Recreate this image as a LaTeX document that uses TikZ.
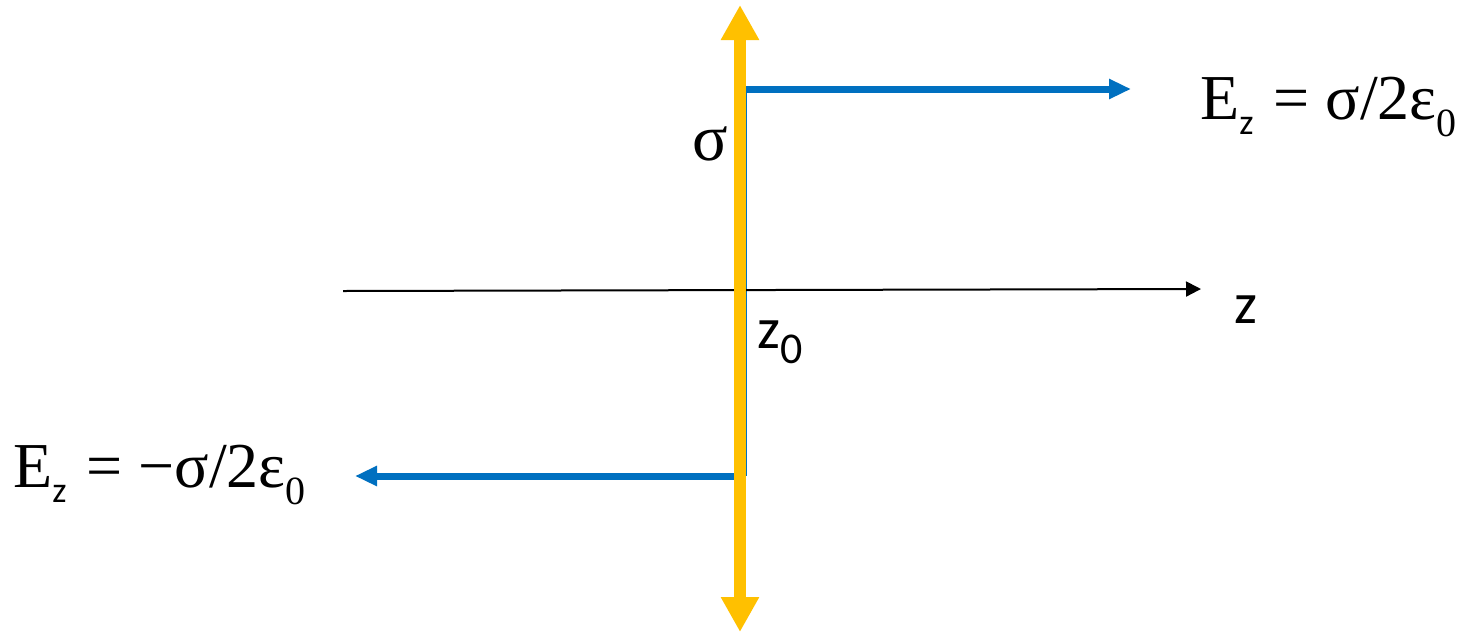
\documentclass[tikz,border=0pt]{standalone}
\usepackage{fontspec}
\setmainfont{Liberation Serif}
\newfontfamily\carlitofont{Carlito}
\usetikzlibrary{arrows.meta}
\definecolor{gold}{HTML}{FFC000}
\definecolor{eblue}{HTML}{0070C0}
\tikzset{
  sheet/.style={line width=12pt, draw=gold, {Triangle[width=36pt,length=35pt]}-{Triangle[width=36pt,length=35pt]}},
  field/.style={line width=7pt, draw=eblue, -{Triangle[width=19pt,length=22pt]}},
  axis/.style={line width=2pt, draw=black, -{Triangle[width=15pt,length=15pt]}},
  lbl/.style={inner sep=0pt, anchor=base west},
}
\newcommand{\fieldlabel}[1]{\fontsize{64}{64}\selectfont E\raisebox{-15pt}{\carlitofont\fontsize{36}{36}\selectfont z}\hspace{4pt} = #1σ/2ε\raisebox{-17pt}{\fontsize{40}{40}\selectfont 0}}
\begin{document}
\begin{tikzpicture}[x=1pt,y=-1pt]
\useasboundingbox (0,0) rectangle (1470,633);
% coordinates
\coordinate (ytop) at (740,5);
\coordinate (ybot) at (740,632);
\coordinate (rstart) at (746,89);
\coordinate (rend) at (1131,89);
\coordinate (lstart) at (746,476);
\coordinate (lend) at (355,476);
\coordinate (axs) at (343,291);
\coordinate (axe) at (1201,289);
% blue step connector
\draw[eblue, line width=1.5pt] (rstart) -- (lstart);
\draw[field] (rstart) -- (rend);
\draw[field] (lstart) -- (lend);
% axis
\draw[axis] (axs) -- (axe);
% charged sheet
\draw[sheet] (ytop) -- (ybot);
% labels
\node[lbl] (sig) at (692,160) {\fontsize{66}{66}\selectfont σ};
\node[lbl] (ER) at (1200,119) {\fieldlabel{}};
\node[lbl] (EL) at (13,487) {\fieldlabel{−}};
\node[lbl] (zax) at (1234,323) {\carlitofont\fontsize{58}{58}\selectfont z};
\node[lbl] (z0) at (757,348) {\carlitofont\fontsize{58}{58}\selectfont z\raisebox{-15pt}{\fontsize{44}{44}\selectfont 0}};
\end{tikzpicture}
\end{document}
